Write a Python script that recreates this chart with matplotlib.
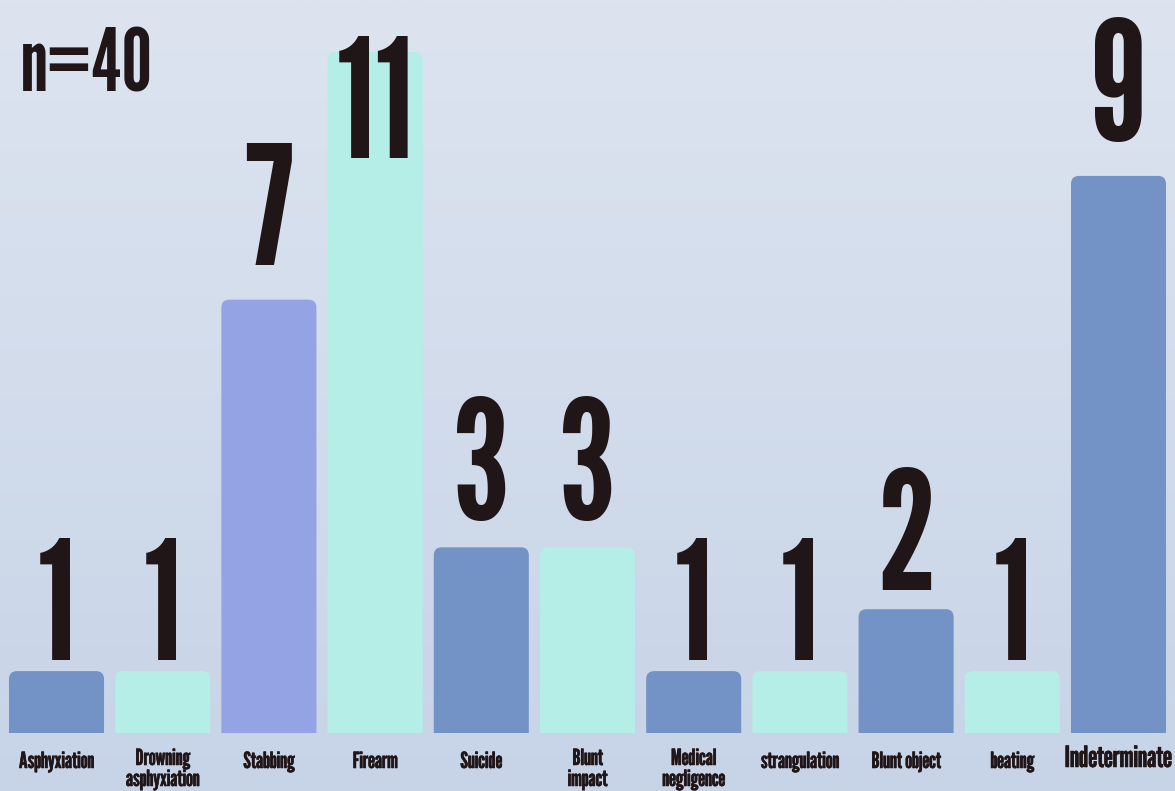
import matplotlib
matplotlib.use("Agg")
import matplotlib.pyplot as plt
import matplotlib.patheffects as pe
import numpy as np
from matplotlib.patches import FancyBboxPatch

# ---- data ----
categories = ["Asphyxiation", "Drowning\nasphyxiation", "Stabbing", "Firearm", "Suicide",
              "Blunt\nimpact", "Medical\nnegligence", "strangulation", "Blunt object",
              "beating", "Indeterminate"]
counts = [1, 1, 7, 11, 3, 3, 1, 1, 2, 1, 9]
total_label = "n=40"

# ---- style ----
BLUE = "#7393C7"
MINT = "#B4EEE6"
LAV = "#93A3E3"
bar_colors = [BLUE, MINT, LAV, MINT, BLUE, MINT, BLUE, MINT, BLUE, MINT, BLUE]
TXT = "#201517"
FONT = ["League Gothic", "Oswald", "DejaVu Sans"]

W, H = 1175, 791
fig = plt.figure(figsize=(W / 100, H / 100), dpi=100)

# background gradient
bg = fig.add_axes([0, 0, 1, 1], zorder=-10)
top = np.array([221, 228, 240]) / 255
bot = np.array([199, 212, 231]) / 255
t = np.linspace(0, 1, 256)[:, None]
grad = top[None, :] * (1 - t) + bot[None, :] * t
grad = np.repeat(grad[:, None, :], 2, axis=1)
bg.imshow(grad, aspect="auto", extent=[0, 1, 0, 1], interpolation="bilinear")
bg.set_axis_off()

# main axes
left_px, right_px, base_px = 3.4, 1171.6, 733
ax = fig.add_axes([left_px / W, (H - base_px) / H, (right_px - left_px) / W, base_px / H])
ax.patch.set_alpha(0)
px_per_unit_y = 61.9
ymax = base_px / px_per_unit_y
ax.set_xlim(-0.5, len(counts) - 0.5)
ax.set_ylim(0, ymax)
ax.set_axis_off()

x = np.arange(len(counts))
bars = ax.bar(x, counts, width=0.895, color=bar_colors)

# rounded tops
px_per_unit_x = (right_px - left_px) / len(counts)
r_x = 8 / px_per_unit_x
aspect = (8 / px_per_unit_y) / r_x
for b in bars:
    b.set_visible(False)
    bx, bw, bh = b.get_x(), b.get_width(), b.get_height()
    p = FancyBboxPatch((bx + r_x, -1), bw - 2 * r_x, bh + 1 - r_x * aspect,
                       boxstyle=f"round,pad={r_x},rounding_size={r_x}",
                       mutation_aspect=aspect, facecolor=b.get_facecolor(),
                       edgecolor="none", zorder=2)
    ax.add_patch(p)

# value labels
digit_h = 127 / px_per_unit_y
top_margin = 31 / px_per_unit_y
for xi, v in zip(x, counts):
    off = min(0.18 + 0.13 * (v - 1), 0.56)
    yb = v + off
    if yb + digit_h > ymax:
        yb = ymax - top_margin - digit_h
    ax.text(xi, yb, str(v), ha="center", va="baseline", fontsize=119,
            family=FONT, color=TXT, zorder=3)

# category labels
lab_fx = [pe.withStroke(linewidth=0.4, foreground=TXT)]
to_data = lambda py: (base_px - py) / px_per_unit_y
for xi, c in zip(x, categories):
    big = c == "Indeterminate"
    n_lines = c.count("\n") + 1
    base_y = 768 if n_lines == 1 else 765
    if big:
        base_y = 767
    ax.text(xi, to_data(base_y), c.split("\n")[0], ha="center", va="baseline",
            fontsize=21 if big else 16, family=FONT, color=TXT,
            path_effects=lab_fx, clip_on=False)
    for k, line in enumerate(c.split("\n")[1:], start=1):
        ax.text(xi, to_data(base_y + 21 * k), line, ha="center", va="baseline",
                fontsize=16, family=FONT, color=TXT,
                path_effects=lab_fx, clip_on=False)

fig.text(21 / W, 1 - 92 / H, total_label, ha="left", va="baseline",
         fontsize=62, family=FONT, color=TXT)

fig.savefig("out.png", dpi=100)
